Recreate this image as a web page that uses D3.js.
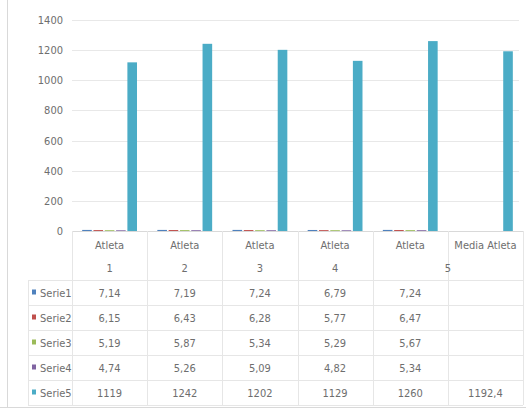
<!DOCTYPE html>
<html><head><meta charset="utf-8">
<script src="https://cdn.jsdelivr.net/npm/d3@7"></script>
<style>
html,body{margin:0;padding:0;background:#fff;}
svg text{font-family:"Liberation Sans Narrow","DejaVu Sans Condensed","Arial Narrow",sans-serif;fill:#6e6e6e;font-size:11px;}
</style></head><body>
<svg id="c" width="526" height="410"></svg>
<script>
const categories = ["Atleta 1","Atleta 2","Atleta 3","Atleta 4","Atleta 5","Media Atleta"];
const headerLine1 = ["Atleta","Atleta","Atleta","Atleta","Atleta","Media Atleta"];
const headerLine2 = ["1","2","3","4","5",""];
const seriesNames = ["Serie1","Serie2","Serie3","Serie4","Serie5"];
const serie1 = [7.14, 7.19, 7.24, 6.79, 7.24, null];
const serie2 = [6.15, 6.43, 6.28, 5.77, 6.47, null];
const serie3 = [5.19, 5.87, 5.34, 5.29, 5.67, null];
const serie4 = [4.74, 5.26, 5.09, 4.82, 5.34, null];
const serie5 = [1119, 1242, 1202, 1129, 1260, 1192.4];
const yTicks = [0,200,400,600,800,1000,1200,1400];
const colors = ["#4F81BD","#C0504D","#9BBB59","#8064A2","#4BACC6"];

(function(){
const seriesValues = [serie1, serie2, serie3, serie4, serie5];
const svg = d3.select("#c");
const pLeft = 72, pRight = 523, pTop = 20, base = 231;
const rowH = 25, tableTop = 280, tableLeft = 28;

const x0 = d3.scaleBand().domain(categories).range([pLeft, pRight]).padding(0);
const x1 = d3.scaleBand().domain(seriesNames).range([0, x0.bandwidth()]).paddingInner(0.15).paddingOuter(0.9);
const y = d3.scaleLinear().domain([0,1400]).range([base, pTop]);
const fmt = v => v == null ? "" : String(v).replace(".", ",");

svg.append("line").attr("x1",7.5).attr("x2",7.5).attr("y1",0).attr("y2",407).attr("stroke","#D9D9D9");
svg.append("line").attr("x1",0).attr("x2",526).attr("y1",407.5).attr("y2",407.5).attr("stroke","#D9D9D9");

svg.append("g").selectAll("line").data(yTicks.filter(d=>d>0)).join("line")
  .attr("x1",pLeft).attr("x2",pRight-4).attr("y1",d=>Math.round(y(d))+0.5).attr("y2",d=>Math.round(y(d))+0.5)
  .attr("stroke","#E8E8E8");

const yAxis = d3.axisLeft(y).tickValues(yTicks).tickSize(0).tickPadding(9).tickFormat(d3.format("d"));
const gy = svg.append("g").attr("transform",`translate(${pLeft},0)`).call(yAxis);
gy.select(".domain").remove();
gy.attr("font-family",null).attr("font-size",null);
gy.selectAll("text").attr("fill","#6e6e6e");

const barData = [];
categories.forEach((c,i)=>seriesNames.forEach((s,j)=>{
  const v = seriesValues[j][i];
  if (v != null) barData.push({c, s, v, j});
}));
svg.append("g").selectAll("rect").data(barData).join("rect")
  .attr("x", d=>x0(d.c)+x1(d.s)).attr("width", x1.bandwidth())
  .attr("y", d=>y(d.v)).attr("height", d=>Math.max(base - y(d.v), 0.8))
  .attr("fill", d=>colors[d.j]);

svg.append("line").attr("x1",pLeft).attr("x2",pRight).attr("y1",base+0.5).attr("y2",base+0.5).attr("stroke","#D9D9D9");

const boundaries = categories.map(c=>x0(c)).concat([pRight]);
svg.append("g").selectAll("line").data(boundaries).join("line")
  .attr("x1",d=>Math.round(d)+0.5).attr("x2",d=>Math.round(d)+0.5)
  .attr("y1",base).attr("y2",tableTop + rowH*5)
  .attr("stroke","#E6E6E6");
svg.append("line").attr("x1",tableLeft+0.5).attr("x2",tableLeft+0.5)
  .attr("y1",tableTop).attr("y2",tableTop+rowH*5).attr("stroke","#E6E6E6");
svg.append("g").selectAll("line").data(d3.range(6)).join("line")
  .attr("x1",tableLeft).attr("x2",pRight)
  .attr("y1",d=>tableTop+d*rowH+0.5).attr("y2",d=>tableTop+d*rowH+0.5)
  .attr("stroke","#E6E6E6");

const hdr = svg.append("g").attr("text-anchor","middle");
hdr.selectAll("text.l1").data(categories).join("text").attr("class","l1")
  .attr("x",d=>x0(d)+x0.bandwidth()/2).attr("y",249).text((d,i)=>headerLine1[i]);
hdr.selectAll("text.l2").data(categories).join("text").attr("class","l2")
  .attr("x",(d,i)=> i===4 ? x0(d)+x0.bandwidth() : x0(d)+x0.bandwidth()/2)
  .attr("y",272).text((d,i)=>headerLine2[i]);

seriesNames.forEach((s,j)=>{
  const cy = tableTop + j*rowH + rowH/2;
  svg.append("rect").attr("x",32).attr("y",cy-3).attr("width",4).attr("height",5).attr("fill",colors[j]);
  svg.append("text").attr("x",40).attr("y",cy+4).text(s);
  svg.append("g").attr("text-anchor","middle").selectAll("text").data(categories).join("text")
    .attr("x",d=>x0(d)+x0.bandwidth()/2).attr("y",cy+4)
    .text((d,i)=>fmt(seriesValues[j][i]));
});
})();
</script></body></html>
